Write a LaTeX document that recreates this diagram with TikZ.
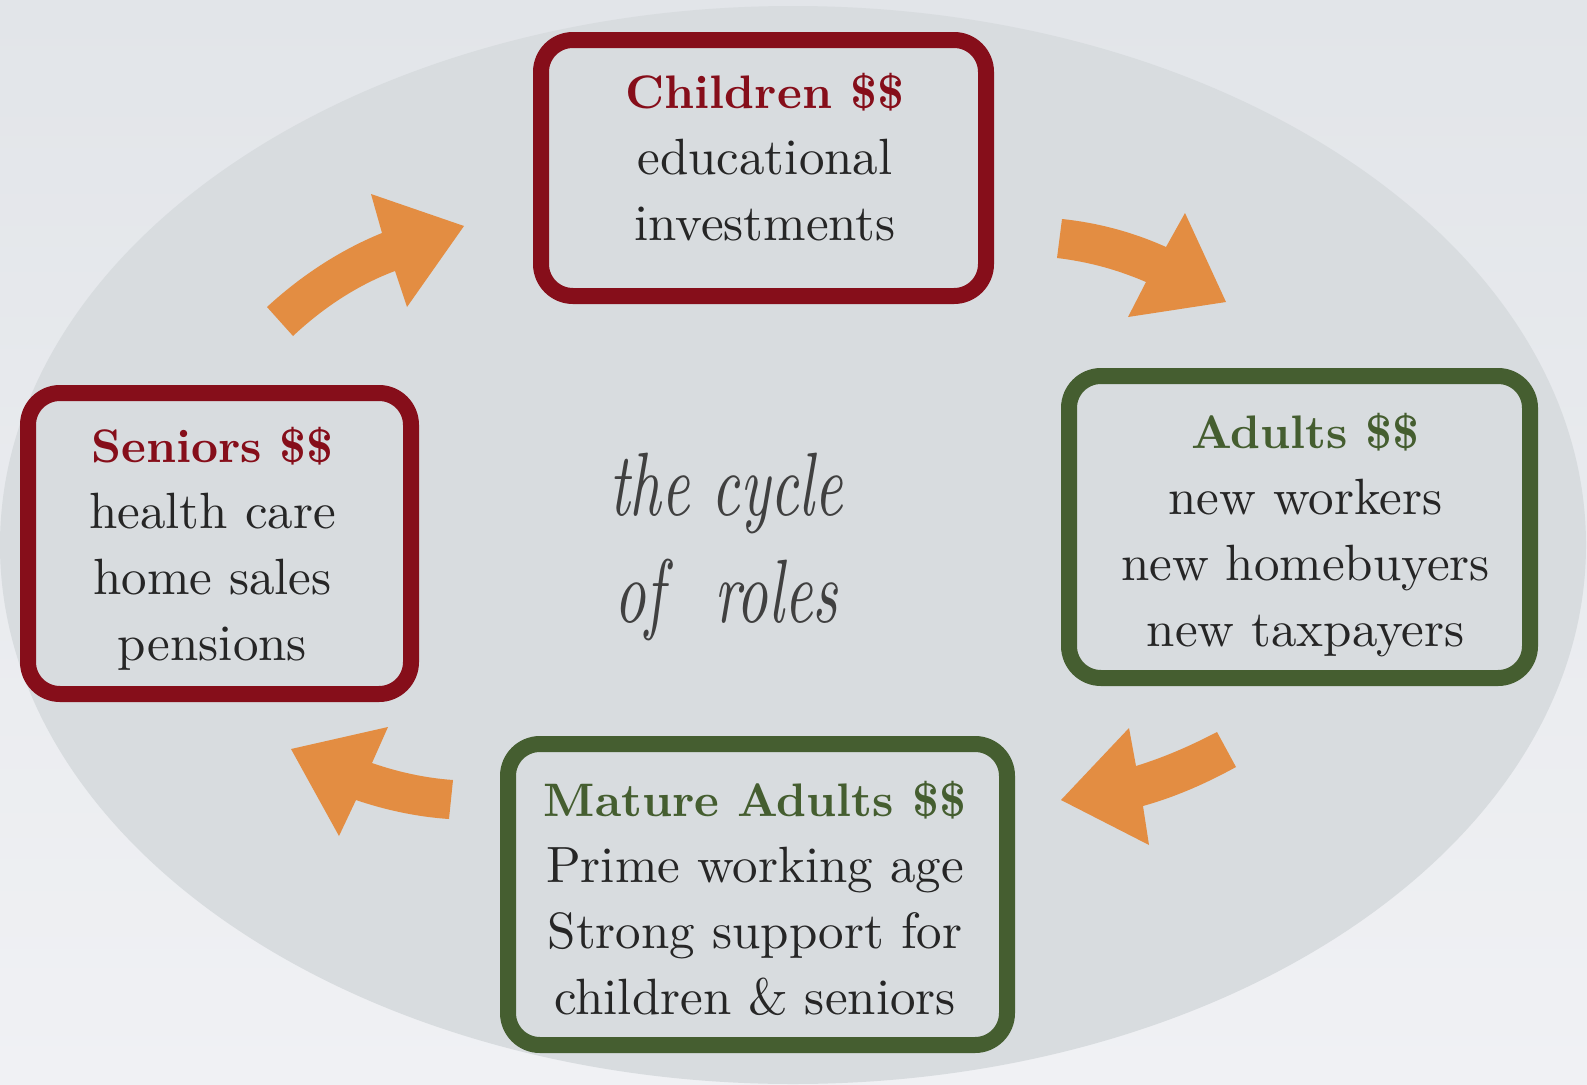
\documentclass[tikz,border=0pt]{standalone}
\usepackage{fontspec}
\setmainfont{lmroman10}[Extension=.otf, UprightFont=*-regular, BoldFont=*-bold, ItalicFont=*-italic, BoldItalicFont=*-bolditalic]
\usepackage{graphicx}
\definecolor{bgtop}{HTML}{E2E5E9}
\definecolor{bgbot}{HTML}{F0F1F4}
\definecolor{ellfill}{HTML}{D8DCDF}
\definecolor{rolered}{HTML}{860E1A}
\definecolor{rolegreen}{HTML}{455E30}
\definecolor{arroworange}{HTML}{E38D42}
\definecolor{bodytext}{HTML}{262626}
\definecolor{centertext}{HTML}{404040}
\newcommand\roletitle[2]{{\fontsize{47}{66}\selectfont\bfseries\color{#1}#2}}
\begin{document}
\begin{tikzpicture}[x=1pt,y=-1pt,
  rolebox/.style={rounded corners=32pt, line width=16pt, fill=ellfill, inner sep=0pt},
  redbox/.style={rolebox, draw=rolered},
  greenbox/.style={rolebox, draw=rolegreen},
  roletext/.style={align=center, text=bodytext, inner sep=0pt, font=\fontsize{51}{66}\selectfont},
  bigarrow/.style={fill=arroworange, draw=none},
  centerlabel/.style={anchor=base, text=centertext, font=\fontsize{90}{100}\selectfont\itshape, inner sep=0pt}]
\useasboundingbox (0,0) rectangle (1587,1084);
\shade[top color=bgtop, bottom color=bgbot] (0,0) rectangle (1587,1084);
\fill[ellfill] (793,545) ellipse [x radius=793, y radius=539];

% arrows
\fill[bigarrow] (267,307) .. controls (305,272) and (345,248) .. (382,233)
  -- (371,194) -- (464,226) -- (407,307) -- (395,271)
  .. controls (360,284) and (325,306) .. (293,336) -- cycle;
\fill[bigarrow] (1062,219) .. controls (1100,223) and (1135,233) .. (1166,247)
  -- (1185,213) -- (1226,302) -- (1128,317) -- (1146,282)
  .. controls (1118,270) and (1090,262) .. (1057,258) -- cycle;
\fill[bigarrow] (1217,732) .. controls (1190,746) and (1165,757) .. (1136,766)
  -- (1129,728) -- (1061,800) -- (1149,845) -- (1143,806)
  .. controls (1175,797) and (1205,784) .. (1236,767) -- cycle;
\fill[bigarrow] (453,780) .. controls (425,778) and (398,772) .. (372,763)
  -- (388,727) -- (291,749) -- (339,836) -- (356,800)
  .. controls (385,810) and (418,817) .. (449,819) -- cycle;

% boxes
\node[redbox, minimum width=445, minimum height=256] (children) at (763.5,168) {};
\node[redbox, minimum width=383, minimum height=301] (seniors) at (219.5,543.5) {};
\node[greenbox, minimum width=461, minimum height=302] (adults) at (1299.5,527) {};
\node[greenbox, minimum width=499, minimum height=301] (mature) at (757.5,894.5) {};

\node[roletext] (childrentext) at (765,157)
  {\roletitle{rolered}{Children \$\$}\\educational\\investments};
\node[roletext] (seniorstext) at (212.5,549)
  {\roletitle{rolered}{Seniors \$\$}\\health care\\home sales\\pensions};
\node[roletext] (adultstext) at (1305.5,535)
  {\roletitle{rolegreen}{Adults \$\$}\\new workers\\new homebuyers\\new taxpayers};
\node[roletext] (maturetext) at (755,898.5)
  {\roletitle{rolegreen}{Mature Adults \$\$}\\Prime working age\\Strong support for\\children \& seniors};

% centre label
\node[centerlabel] (cycle1) at (726,515) {\scalebox{0.685}[1]{the cycle}};
\node[centerlabel] (cycle2) at (726,622) {\scalebox{0.685}[1]{of\hspace{0.8em}roles}};
\end{tikzpicture}
\end{document}
